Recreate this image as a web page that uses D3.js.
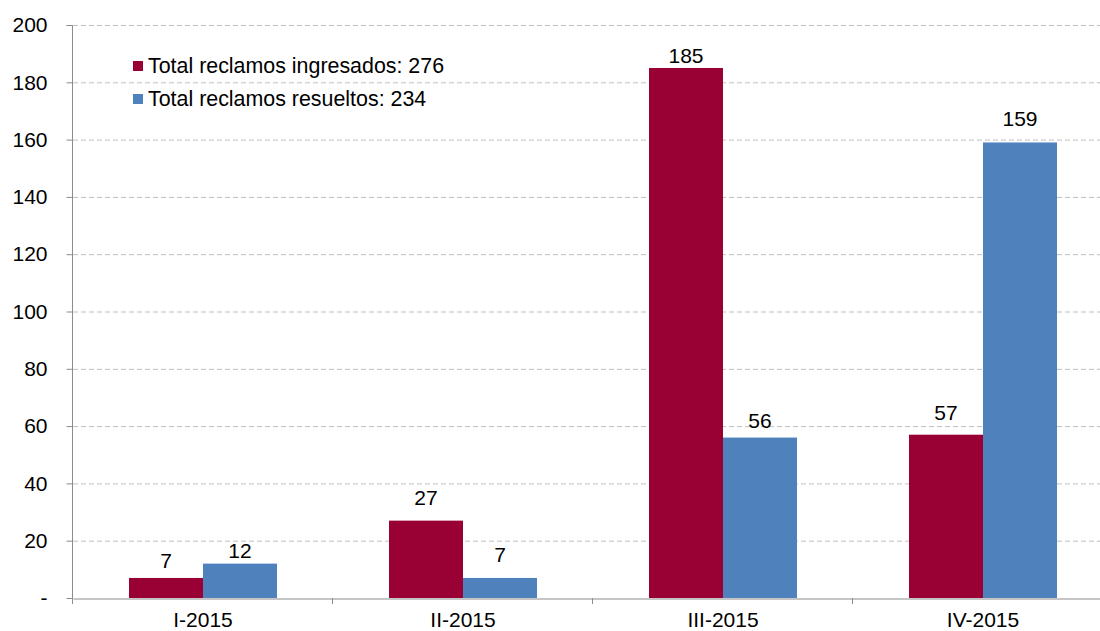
<!DOCTYPE html>
<html><head><meta charset="utf-8">
<script src="https://cdn.jsdelivr.net/npm/d3@7"></script>
<style>body{margin:0;background:#fff}svg{display:block;font-family:"Liberation Sans",Arial,sans-serif}</style>
</head><body><svg id="c" width="1100" height="631"></svg>
<script>
const categories = ["I-2015","II-2015","III-2015","IV-2015"];
const seriesNames = ["Total reclamos ingresados: 276","Total reclamos resueltos: 234"];
const ingresados = [7,27,185,57];
const resueltos = [12,7,56,159];
const yTicks = [0,20,40,60,80,100,120,140,160,180,200];

const colors = ["#990033","#4F81BD"];
const FS = 21;
// manual label gaps (px above bar top), as placed in the original
const labelGap = [[10,16,5,15],[6,16,10,16]];

const svg = d3.select("#c");
const x0 = 73, x1 = 1113, yB = 598, yT = 25;
const x = d3.scaleBand().domain(categories).range([x0,x1]);
const y = d3.scaleLinear().domain([0,200]).range([yB,yT]);
const barW = 74;
const xs = d3.scaleBand().domain([0,1]).range([0,barW*2]);

// gridlines
svg.append("g").selectAll("line").data(yTicks.filter(d=>d>0)).join("line")
  .attr("x1",x0).attr("x2",1100).attr("y1",d=>y(d)+0.5).attr("y2",d=>y(d)+0.5)
  .attr("stroke","#bfbfbf").attr("stroke-dasharray","5,3").attr("stroke-width",1);

// bars
const series = [ingresados,resueltos];
series.forEach((vals,si)=>{
  svg.append("g").selectAll("rect").data(vals).join("rect")
    .attr("x",(d,i)=>x(categories[i])+x.bandwidth()/2-barW+xs(si))
    .attr("width",barW)
    .attr("y",d=>y(d)).attr("height",d=>yB-y(d))
    .attr("fill",colors[si]);
  svg.append("g").selectAll("text").data(vals).join("text")
    .attr("x",(d,i)=>x(categories[i])+x.bandwidth()/2-barW+xs(si)+barW/2)
    .attr("y",(d,i)=>y(d)-labelGap[si][i])
    .attr("text-anchor","middle").attr("font-size",FS).attr("fill","#000")
    .text(d=>d);
});

// y axis
const ya = svg.append("g").attr("transform",`translate(${x0-0.5},0)`)
  .call(d3.axisLeft(y).tickValues(yTicks).tickSize(6).tickPadding(19).tickFormat(d=>d===0?"-":d));
ya.select(".domain").attr("stroke","#8c8c8c").attr("d",`M-6,${yT+0.5}H0V${yB+0.5}`);
ya.selectAll(".tick line").attr("stroke","#8c8c8c");
ya.selectAll(".tick text").attr("font-size",FS).attr("fill","#000").attr("font-family","Liberation Sans, Arial, sans-serif");

// x axis
const xa = svg.append("g").attr("transform",`translate(0,${yB+0.5})`)
  .call(d3.axisBottom(x).tickSize(0).tickPadding(14));
xa.select(".domain").attr("stroke","#8c8c8c");
xa.selectAll(".tick text").attr("font-size",FS).attr("fill","#000").attr("font-family","Liberation Sans, Arial, sans-serif").attr("dy","0.71em");
svg.append("g").selectAll("line").data(d3.range(categories.length+1)).join("line")
  .attr("x1",i=>x0+i*x.step()-0.5).attr("x2",i=>x0+i*x.step()-0.5)
  .attr("y1",yB).attr("y2",yB+6).attr("stroke","#8c8c8c");

// legend
const lg = svg.append("g");
seriesNames.forEach((n,i)=>{
  const yy = 66 + i*33;
  lg.append("rect").attr("x",133).attr("y",yy-5).attr("width",10).attr("height",10).attr("fill",colors[i]);
  lg.append("text").attr("x",148).attr("y",yy).attr("dy","0.35em").attr("font-size",21.4).attr("fill","#000").text(n);
});
</script></body></html>
